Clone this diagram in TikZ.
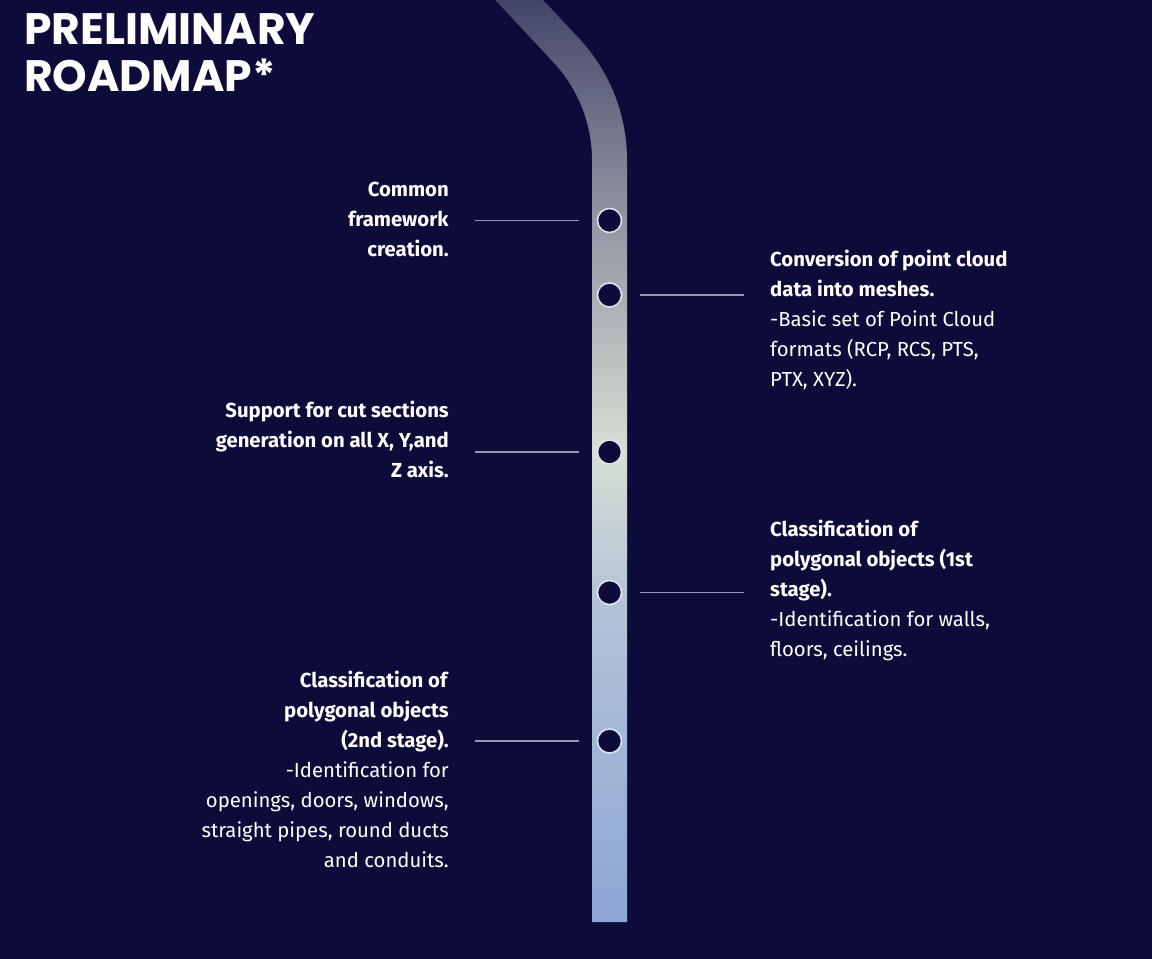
\documentclass[tikz,border=0pt]{standalone}
\usepackage{fontspec}
\setmainfont{Fira Sans}
\newfontfamily\titlefont{Poppins}
\usetikzlibrary{positioning}

\definecolor{navy}{RGB}{13,11,58}
\definecolor{linkgray}{RGB}{150,151,178}
\definecolor{dotrim}{RGB}{226,230,240}
\definecolor{bartop}{RGB}{64,66,102}
\definecolor{barup}{RGB}{140,144,158}
\definecolor{barmid}{RGB}{214,223,212}
\definecolor{barlow}{RGB}{180,196,214}
\definecolor{barbot}{RGB}{141,166,214}

\pgfdeclareverticalshading{roadbar}{100bp}{color(0bp)=(barbot); color(25bp)=(barbot);
  color(42.3bp)=(barlow); color(50.3bp)=(barmid); color(63.7bp)=(barup);
  color(75bp)=(bartop); color(100bp)=(bartop)}

\begin{document}
\begin{tikzpicture}[
  x=1pt, y=-1pt,
  title/.style={font=\titlefont\bfseries\fontsize{44}{47}\selectfont, text=white,
                align=left, inner sep=0pt},
  lefttext/.style={font=\fontsize{20.3}{30}\selectfont, text=white, align=right,
                   inner sep=0pt, anchor=east},
  righttext/.style={font=\fontsize{20.3}{30}\selectfont, text=white, align=left,
                    inner sep=0pt, anchor=west},
  dot/.style={circle, minimum size=24pt, inner sep=0pt, fill=navy, draw=dotrim,
              line width=1.5pt},
  link/.style={draw=linkgray, line width=1.5pt, shorten <=17.5pt, shorten >=26pt}
]

% background
\fill[navy] (0,0) rectangle (1152,959);
\useasboundingbox (0,0) rectangle (1152,959);

% === Title ===
\node[title, anchor=north west] (title) at (24,13) {PRELIMINARY\\ROADMAP*};

% === Road bar ===
\shade[shading=roadbar] (486,-10) -- (553.6,62.5)
  arc[start angle=-43, end angle=0, radius=143] -- (592,922) -- (627,922)
  -- (627,160) arc[start angle=0, end angle=-43, radius=178] -- (533.8,-10) -- cycle;

% milestones
\foreach \i/\y in {1/220.5, 2/295, 3/452, 4/592.5, 5/741} {
  \node[dot] (d\i) at (609.5,\y) {};
}

% === Left side ===
\node[lefttext] (t1) at (449,219) {\textbf{Common}\\\textbf{framework}\\\textbf{creation.}};
\node[lefttext] (t3) at (449,439) {\textbf{Support for cut sections}\\
  \textbf{generation on all X, Y,and}\\\textbf{Z axis.}};
\node[lefttext] (t5) at (449,769) {\textbf{Classification of}\\\textbf{polygonal objects}\\
  \textbf{(2nd stage).}\\-Identification for\\openings, doors, windows,\\
  straight pipes, round ducts\\and conduits.};

% === Right side ===
\node[righttext] (t2) at (770,320) {\textbf{Conversion of point cloud}\\
  \textbf{data into meshes.}\\-Basic set of Point Cloud\\formats (RCP, RCS, PTS,\\PTX, XYZ).};
\node[righttext] (t4) at (770,590) {\textbf{Classification of}\\
  \textbf{polygonal objects (1st}\\\textbf{stage).}\\-Identification for walls,\\floors, ceilings.};

% connectors
\draw[link] (d1.west) -- (d1 -| t1.east);
\draw[link] (d2.east) -- (d2 -| t2.west);
\draw[link] (d3.west) -- (d3 -| t3.east);
\draw[link] (d4.east) -- (d4 -| t4.west);
\draw[link] (d5.west) -- (d5 -| t5.east);

\end{tikzpicture}
\end{document}
